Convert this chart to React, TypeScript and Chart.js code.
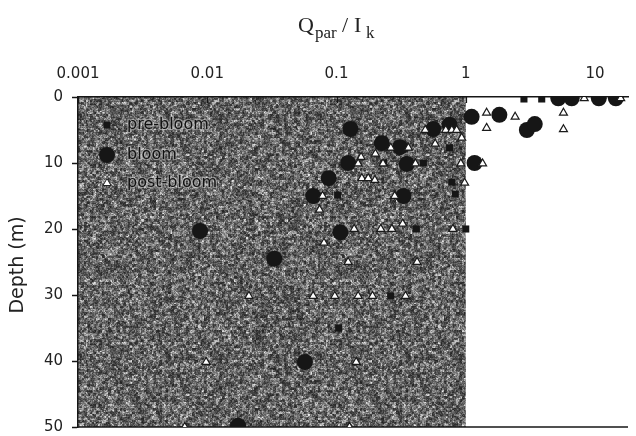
import React, { useEffect, useRef } from "react";
import { Chart, registerables } from "chart.js";

Chart.register(...registerables);

// Q_par / I_k values (x) and depth in metres (y)
const preBloomX = [2.82, 3.87, 0.75, 0.232, 0.47, 0.78, 0.83, 0.102, 0.415, 1.0, 0.263, 0.104];
const preBloomDepth = [0.3, 0.3, 7.7, 10.0, 10.0, 12.9, 14.7, 14.85, 20.0, 20.0, 30.15, 35.0];

const bloomX = [0.128, 0.224, 0.31, 0.56, 0.75, 0.123, 0.35, 0.087, 0.066, 0.33, 1.11, 1.17, 1.82, 2.97, 3.42, 5.2, 6.6, 10.7, 14.5, 0.0088, 0.033, 0.057, 0.0173, 0.107];
const bloomDepth = [4.85, 7.0, 7.6, 4.85, 4.2, 10.0, 10.15, 12.3, 15.0, 15.0, 3.0, 10.0, 2.7, 5.0, 4.1, 0.2, 0.2, 0.2, 0.2, 20.3, 24.5, 40.15, 49.8, 20.5];

const postBloomX = [0.486, 0.70, 0.78, 0.85, 0.93, 0.58, 0.36, 0.263, 0.20, 0.155, 0.147, 0.229, 0.408, 0.916, 0.157, 0.176, 0.198, 0.98, 0.078, 0.282, 1.35, 1.45, 1.45, 2.41, 5.7, 5.7, 8.25, 15.8, 0.074, 0.137, 0.22, 0.268, 0.325, 0.795, 0.08, 0.123, 0.42, 0.066, 0.097, 0.147, 0.19, 0.342, 0.142, 0.126, 0.021, 0.0098, 0.0067];
const postBloomDepth = [5.0, 5.0, 5.0, 5.0, 6.2, 7.1, 7.7, 7.7, 8.6, 9.1, 10.1, 10.1, 10.1, 10.1, 12.3, 12.3, 12.6, 13.0, 15.0, 15.0, 10.1, 2.4, 4.7, 3.0, 2.4, 4.9, 0.2, 0.2, 17.1, 20.0, 20.0, 20.0, 19.2, 20.0, 22.1, 25.0, 25.0, 30.15, 30.15, 30.15, 30.15, 30.15, 40.15, 50.0, 30.15, 40.15, 50.0];

const xTickValues = [0.001, 0.01, 0.1, 1, 10];
const xTickLabels = ["0.001", "0.01", "0.1", "1", "10"];
const yTickValues = [0, 10, 20, 30, 40, 50];

const legendLabels = ["pre-bloom", "bloom", "post-bloom"];
const shadedLimit = 1; // Q_par / I_k = 1 boundary of shaded region

const INK = "#161616";
const SANS = "'DejaVu Sans', 'Open Sans', sans-serif";
const SERIF = "'Liberation Serif', 'DejaVu Serif', serif";

function zip(xs: number[], ys: number[]) {
  return xs.map((x, i) => ({ x, y: ys[i] }));
}

function makeNoise(ctx: CanvasRenderingContext2D) {
  const size = 240;
  const c = document.createElement("canvas");
  c.width = size;
  c.height = size;
  const g = c.getContext("2d")!;
  const img = g.createImageData(size, size);
  const hash = (x: number, y: number) => {
    const s = Math.sin(x * 12.9898 + y * 78.233) * 43758.5453;
    return s - Math.floor(s);
  };
  for (let y = 0; y < size; y++) {
    for (let x = 0; x < size; x++) {
      const n1 = hash(x, y);
      const n2 = hash(Math.floor(x / 2) + 300, Math.floor(y / 2) + 700);
      const n3 = hash(Math.floor(x / 3) + 911, Math.floor(y / 3) + 123);
      const v = 0.3 * n1 + 0.35 * n2 + 0.35 * n3;
      const val = Math.round(34 + 215 * Math.pow(v, 1.75));
      const i = (y * size + x) * 4;
      img.data[i] = val;
      img.data[i + 1] = val;
      img.data[i + 2] = val;
      img.data[i + 3] = 255;
    }
  }
  g.putImageData(img, 0, 0);
  return ctx.createPattern(c, "repeat")!;
}

export default function App() {
  const ref = useRef<HTMLCanvasElement | null>(null);

  useEffect(() => {
    document.body.style.margin = "0";
    const canvas = ref.current!;

    const shadePlugin = {
      id: "shade",
      beforeDraw(chart: any) {
        const { ctx, chartArea, scales } = chart;
        const xr = scales.x.getPixelForValue(shadedLimit);
        ctx.save();
        ctx.fillStyle = makeNoise(ctx);
        ctx.fillRect(chartArea.left, chartArea.top, xr - chartArea.left, chartArea.bottom - chartArea.top);
        ctx.restore();
      },
      beforeDatasetsDraw(chart: any) {
        const { ctx, chartArea, scales } = chart;
        ctx.save();
        ctx.strokeStyle = INK;
        ctx.lineWidth = 1.5;
        ctx.beginPath();
        ctx.moveTo(chartArea.left, chartArea.bottom);
        ctx.lineTo(chartArea.right, chartArea.bottom);
        ctx.stroke();
        ctx.lineWidth = 1.2;
        xTickValues.forEach((v) => {
          const px = Math.round(scales.x.getPixelForValue(v)) + 0.5;
          ctx.beginPath();
          ctx.moveTo(px, chartArea.top);
          ctx.lineTo(px, chartArea.top + 6);
          ctx.stroke();
        });
        ctx.restore();
      },
      afterDraw(chart: any) {
        const { ctx, chartArea } = chart;
        ctx.save();
        // x title Q_par / I_k
        ctx.fillStyle = "#222";
        ctx.textBaseline = "alphabetic";
        ctx.textAlign = "left";
        ctx.font = `22px ${SERIF}`;
        ctx.fillText("Q", 298, 32);
        ctx.font = `17px ${SERIF}`;
        ctx.fillText("par", 315, 38);
        ctx.font = `22px ${SERIF}`;
        ctx.fillText("/", 342, 32);
        ctx.fillText("I", 354, 32);
        ctx.font = `17px ${SERIF}`;
        ctx.fillText("k", 366, 38);

        // y title
        ctx.save();
        ctx.translate(18, (chartArea.top + chartArea.bottom) / 2 + 3);
        ctx.rotate(-Math.PI / 2);
        ctx.textAlign = "center";
        ctx.textBaseline = "middle";
        ctx.font = `19px ${SANS}`;
        ctx.fillStyle = "#222";
        ctx.fillText("Depth (m)", 0, 0);
        ctx.restore();

        // legend
        const lx = chartArea.left + 29;
        const ys = [chartArea.top + 28, chartArea.top + 58, chartArea.top + 86];
        ctx.fillStyle = INK;
        ctx.fillRect(lx - 3.5, ys[0] - 3.5, 7, 7);
        ctx.beginPath();
        ctx.arc(lx, ys[1], 8, 0, Math.PI * 2);
        ctx.fill();
        ctx.beginPath();
        ctx.moveTo(lx, ys[2] - 4.5);
        ctx.lineTo(lx + 4, ys[2] + 2.5);
        ctx.lineTo(lx - 4, ys[2] + 2.5);
        ctx.closePath();
        ctx.fillStyle = "#fff";
        ctx.fill();
        ctx.strokeStyle = "#222";
        ctx.lineWidth = 1;
        ctx.stroke();
        ctx.font = `16px ${SANS}`;
        ctx.textAlign = "left";
        ctx.textBaseline = "middle";
        legendLabels.forEach((t, i) => {
          ctx.lineWidth = 2.5;
          ctx.strokeStyle = "rgba(210,210,210,0.5)";
          ctx.strokeText(t, lx + 20, ys[i]);
          ctx.fillStyle = "#111";
          ctx.fillText(t, lx + 20, ys[i]);
        });
        ctx.restore();
      },
    };

    const chart = new Chart(canvas, {
      type: "scatter",
      data: {
        datasets: [
          {
            label: legendLabels[0],
            data: zip(preBloomX, preBloomDepth),
            pointStyle: "rect",
            pointRadius: 5,
            backgroundColor: INK,
            borderColor: INK,
            borderWidth: 0,
            order: 2,
          },
          {
            label: legendLabels[1],
            data: zip(bloomX, bloomDepth),
            pointStyle: "circle",
            pointRadius: 8,
            backgroundColor: INK,
            borderColor: INK,
            borderWidth: 0,
            order: 3,
          },
          {
            label: legendLabels[2],
            data: zip(postBloomX, postBloomDepth),
            pointStyle: "triangle",
            pointRadius: 4.6,
            backgroundColor: "#ffffff",
            borderColor: "#1a1a1a",
            borderWidth: 1.2,
            order: 1,
          },
        ],
      },
      options: {
        animation: false,
        responsive: false,
        events: [],
        layout: { padding: { left: 0, right: 0, top: 0, bottom: 0 } },
        plugins: { legend: { display: false }, tooltip: { enabled: false } },
        scales: {
          x: {
            type: "logarithmic",
            position: "top",
            min: 0.001,
            max: 18,
            afterBuildTicks: (s: any) => {
              s.ticks = xTickValues.map((v) => ({ value: v }));
            },
            afterFit: (s: any) => {
              s.height = 97;
            },
            ticks: {
              autoSkip: false,
              maxRotation: 0,
              padding: 14,
              color: "#222",
              font: { family: SANS, size: 15 },
              callback: (v: any) => {
                const i = xTickValues.indexOf(Number(v));
                return i >= 0 ? xTickLabels[i] : "";
              },
            },
            grid: { drawOnChartArea: false, drawTicks: false },
            border: { display: true, color: INK, width: 1.5 },
          },
          y: {
            type: "linear",
            reverse: true,
            min: 0,
            max: 50,
            afterBuildTicks: (s: any) => {
              s.ticks = yTickValues.map((v) => ({ value: v }));
            },
            afterFit: (s: any) => {
              s.width = 78;
              s.paddingTop = 0;
              s.paddingBottom = 9;
            },
            ticks: {
              padding: 9,
              color: "#222",
              font: { family: SANS, size: 15 },
            },
            grid: { drawOnChartArea: false, drawTicks: true, tickLength: 6, tickColor: INK, tickWidth: 1.5 },
            border: { display: true, color: INK, width: 1.5 },
          },
        },
      },
      plugins: [shadePlugin],
    } as any);

    return () => chart.destroy();
  }, []);

  return (
    <div style={{ width: 636, height: 436 }}>
      <canvas ref={ref} width={636} height={436} style={{ display: "block" }} />
    </div>
  );
}
